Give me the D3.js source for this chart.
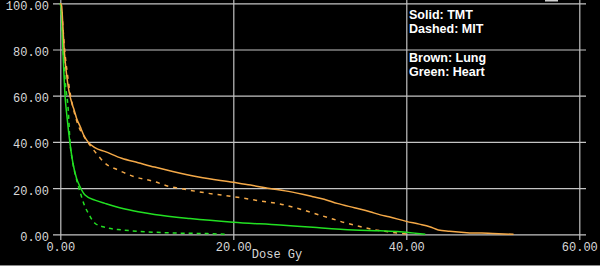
<!DOCTYPE html>
<html><head><meta charset="utf-8">
<script src="https://cdn.jsdelivr.net/npm/d3@7"></script>
<style>
html,body{margin:0;padding:0;background:#000;}
svg{display:block;}
</style></head>
<body>
<svg id="chart" width="600" height="266"></svg>
<script>
// ---- data ----
const xTicks = [0, 20, 40, 60];
const yTicks = [0, 20, 40, 60, 80, 100];
const xLabel = "Dose Gy";
const legendLines = ["Solid: TMT", "Dashed: MIT", "", "Brown: Lung", "Green: Heart"];

// dose (Gy), volume (%)
const lungTMTDose = [0, 0.15, 0.3, 0.45, 0.7, 1.0, 1.4, 1.6, 1.9, 2.3, 2.7, 3.2, 4, 5.2, 7.1, 9, 10.9, 13, 16, 20, 22, 24.2, 26, 28, 29.2, 30.5, 32, 34, 35.8, 37, 38, 40, 41.5, 42.7, 43.7, 45, 47, 50, 52.4];
const lungTMTVol  = [100, 99, 90, 80, 70, 62, 56, 53.8, 50, 46.6, 43, 40, 37.5, 35.8, 32.9, 31, 29.1, 27.2, 24.8, 22.5, 21.3, 19.8, 18.8, 17.3, 16.3, 15.2, 13.4, 11.5, 9.8, 8.4, 7.6, 5.6, 4.4, 3.3, 1.9, 1.3, 0.7, 0.4, 0];

const lungMITDose = [0, 0.15, 0.3, 0.5, 0.8, 1.1, 1.6, 2.2, 2.8, 3.4, 4.0, 5.2, 6.7, 8.6, 10.9, 12.5, 14.2, 17, 20, 23, 25.4, 28.1, 30, 31.6, 33, 34.3, 36, 37.9, 39.3, 40.5];
const lungMITVol  = [100, 98, 90, 80, 70, 62, 53, 46, 42, 38.7, 35.8, 30.7, 27.8, 24.9, 22.8, 20.8, 19.6, 17.8, 16.3, 14.5, 13.1, 10.5, 8.3, 6.5, 4.9, 3.7, 2.2, 1.1, 0.4, 0];

const heartTMTDose = [0, 0.1, 0.3, 0.55, 0.8, 1.1, 1.5, 1.9, 2.28, 2.86, 4.0, 5.17, 7.1, 9.0, 10.9, 15, 20, 25.4, 29.2, 33.9, 37, 39.3, 41, 42.2];
const heartTMTVol  = [100, 98, 80, 60, 50, 40, 30, 24, 20.6, 17.0, 14.8, 13.4, 11.3, 9.8, 8.6, 6.8, 5.2, 4.0, 3.0, 1.9, 1.5, 1.1, 0.5, 0];

const heartMITDose = [0, 0.1, 0.3, 0.6, 0.92, 1.12, 1.4, 1.7, 2.28, 2.86, 3.24, 4.0, 5.17, 7.1, 9.0, 10.9, 14, 17, 19];
const heartMITVol  = [100, 97, 82, 65, 53.8, 40, 32, 26.4, 18.4, 11.9, 9.1, 4.8, 3.0, 1.9, 1.3, 0.9, 0.5, 0.3, 0];

const lungColor = "#f4a948";
const heartColor = "#22e022";

// ---- chart ----
const svg = d3.select("#chart");
const x = d3.scaleLinear().domain([0, 60]).range([60.3, 579.3]);
const y = d3.scaleLinear().domain([0, 100]).range([234.3, 3.3]);

svg.append("rect").attr("width", 600).attr("height", 266).attr("fill", "#000");

// horizontal grid + y labels
const gy = svg.append("g")
  .attr("transform", "translate(53,0)")
  .call(d3.axisLeft(y).tickValues(yTicks).tickFormat(d3.format(".2f"))
        .tickSize(-(586 - 53)).tickPadding(4));
gy.select(".domain").remove();
gy.selectAll(".tick line").attr("stroke", "#c4c4c4").attr("stroke-width", 1.2);
gy.selectAll(".tick text")
  .attr("fill", "#d8d8d8").attr("font-family", "'Liberation Mono', monospace")
  .attr("font-size", 12).attr("dy", 6);

// vertical grid + x labels
const gx = svg.append("g")
  .attr("transform", "translate(0,240)")
  .call(d3.axisBottom(x).tickValues(xTicks).tickFormat(d3.format(".2f"))
        .tickSize(-240).tickPadding(0));
gx.select(".domain").remove();
gx.selectAll(".tick line").attr("stroke", "#c4c4c4").attr("stroke-width", 1.2);
gx.selectAll(".tick text")
  .attr("fill", "#d8d8d8").attr("font-family", "'Liberation Mono', monospace")
  .attr("font-size", 12).attr("y", 10.5).attr("dy", 0);

svg.append("text").attr("x", 277).attr("y", 258)
  .attr("text-anchor", "middle").attr("fill", "#d8d8d8")
  .attr("font-family", "'Liberation Mono', monospace").attr("font-size", 12)
  .text(xLabel);

// bottom border & top small box
svg.append("line").attr("x1", 0).attr("x2", 600).attr("y1", 265.5).attr("y2", 265.5)
  .attr("stroke", "#8a8a8a").attr("stroke-width", 1);
svg.append("rect").attr("x", 545).attr("y", 0).attr("width", 13).attr("height", 1.5)
  .attr("fill", "#d0d0d0");

// curves
const line = d3.line().curve(d3.curveMonotoneX).x(d => x(d[0])).y(d => y(d[1]));
const series = [
  {dose: heartMITDose, vol: heartMITVol, color: heartColor, dash: "4,4"},
  {dose: lungMITDose, vol: lungMITVol, color: lungColor, dash: "4,5"},
  {dose: heartTMTDose, vol: heartTMTVol, color: heartColor, dash: null},
  {dose: lungTMTDose, vol: lungTMTVol, color: lungColor, dash: null}
];
series.forEach(s => {
  svg.append("path")
    .datum(s.dose.map((d, i) => [d, s.vol[i]]))
    .attr("d", line)
    .attr("fill", "none")
    .attr("stroke", s.color)
    .attr("stroke-width", 1.5)
    .attr("stroke-dasharray", s.dash);
});

// legend
const baselines = [18.5, 32.5, 0, 62.3, 76.2];
legendLines.forEach((t, i) => {
  if (!t) return;
  svg.append("text").attr("x", 409).attr("y", baselines[i])
    .attr("fill", "#ffffff").attr("font-family", "'Liberation Sans', Arial, sans-serif")
    .attr("font-weight", "bold").attr("font-size", 12.5)
    .text(t);
});
</script>
</body></html>
